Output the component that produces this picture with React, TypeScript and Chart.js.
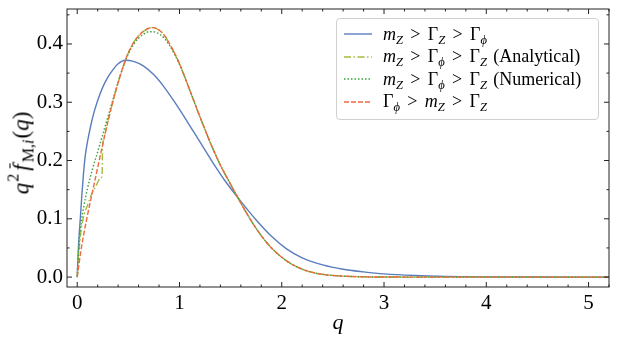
import React, { useEffect, useRef } from "react";
import { Chart, registerables } from "chart.js";

Chart.register(...registerables);

// ---------- data ----------
const qBlue = [0, 0.005, 0.01, 0.02, 0.03, 0.045, 0.06, 0.08, 0.1, 0.13, 0.16, 0.2, 0.25, 0.3, 0.35, 0.4, 0.47, 0.55, 0.65, 0.75, 0.85, 0.95, 1.05, 1.15, 1.25, 1.35, 1.45, 1.6, 1.75, 1.9, 2.05, 2.2, 2.4, 2.6, 2.8, 3.0, 3.3, 3.6, 4.0, 4.5, 5.3];
const vBlue = [0, 0.025, 0.045, 0.075, 0.1, 0.14, 0.175, 0.21, 0.232, 0.258, 0.28, 0.303, 0.326, 0.343, 0.356, 0.366, 0.372, 0.37, 0.362, 0.347, 0.326, 0.301, 0.274, 0.246, 0.218, 0.19, 0.164, 0.13, 0.098, 0.07, 0.048, 0.033, 0.021, 0.0135, 0.009, 0.0055, 0.0027, 0.0012, 0.0004, 0.0001, 0];

const qAnalytical = [0, 0.01, 0.02, 0.04, 0.07, 0.1, 0.14, 0.18, 0.22, 0.243, 0.248, 0.26, 0.3, 0.35, 0.4, 0.45, 0.5, 0.55, 0.6, 0.65, 0.7, 0.74, 0.78, 0.82, 0.86, 0.9, 0.95, 1.0, 1.05, 1.1, 1.15, 1.2, 1.25, 1.3, 1.35, 1.4, 1.5, 1.6, 1.7, 1.8, 1.9, 2.0, 2.1, 2.2, 2.3, 2.4, 2.6, 2.8, 3.0, 3.5, 5.3];
const vAnalytical = [0, 0.03, 0.05, 0.083, 0.108, 0.123, 0.142, 0.155, 0.168, 0.175, 0.224, 0.238, 0.267, 0.302, 0.334, 0.362, 0.385, 0.402, 0.414, 0.422, 0.427, 0.428, 0.426, 0.421, 0.413, 0.401, 0.385, 0.366, 0.344, 0.321, 0.298, 0.275, 0.253, 0.231, 0.211, 0.192, 0.159, 0.127, 0.097, 0.071, 0.05, 0.034, 0.022, 0.0135, 0.008, 0.0047, 0.0016, 0.0005, 0.0001, 0, 0];

const qNumerical = [0, 0.01, 0.02, 0.04, 0.06, 0.1, 0.15, 0.2, 0.25, 0.3, 0.35, 0.4, 0.45, 0.5, 0.55, 0.6, 0.65, 0.7, 0.74, 0.78, 0.82, 0.86, 0.9, 0.95, 1.0, 1.05, 1.1, 1.15, 1.2, 1.25, 1.3, 1.35, 1.4, 1.5, 1.6, 1.7, 1.8, 1.9, 2.0, 2.1, 2.2, 2.3, 2.4, 2.6, 2.8, 3.0, 3.5, 5.3];
const vNumerical = [0, 0.035, 0.062, 0.095, 0.117, 0.152, 0.186, 0.215, 0.245, 0.275, 0.305, 0.334, 0.361, 0.383, 0.399, 0.41, 0.417, 0.421, 0.421, 0.419, 0.415, 0.408, 0.398, 0.383, 0.365, 0.344, 0.321, 0.298, 0.275, 0.253, 0.231, 0.211, 0.192, 0.159, 0.127, 0.097, 0.071, 0.05, 0.034, 0.022, 0.0135, 0.008, 0.0047, 0.0016, 0.0005, 0.0001, 0, 0];

const qOrange = [0, 0.03, 0.06, 0.1, 0.15, 0.2, 0.25, 0.3, 0.35, 0.4, 0.45, 0.5, 0.55, 0.6, 0.65, 0.7, 0.74, 0.78, 0.82, 0.86, 0.9, 0.95, 1.0, 1.05, 1.1, 1.15, 1.2, 1.25, 1.3, 1.35, 1.4, 1.5, 1.6, 1.7, 1.8, 1.9, 2.0, 2.1, 2.2, 2.3, 2.4, 2.6, 2.8, 3.0, 3.5, 5.3];
const vOrange = [0, 0.038, 0.07, 0.106, 0.147, 0.188, 0.228, 0.267, 0.302, 0.334, 0.362, 0.385, 0.402, 0.414, 0.422, 0.427, 0.428, 0.426, 0.421, 0.413, 0.401, 0.385, 0.366, 0.344, 0.321, 0.298, 0.275, 0.253, 0.231, 0.211, 0.192, 0.159, 0.127, 0.097, 0.071, 0.05, 0.034, 0.022, 0.0135, 0.008, 0.0047, 0.0016, 0.0005, 0.0001, 0, 0];

const seriesNames = [
  "m_Z > Γ_Z > Γ_φ",
  "m_Z > Γ_φ > Γ_Z (Analytical)",
  "m_Z > Γ_φ > Γ_Z (Numerical)",
  "Γ_φ > m_Z > Γ_Z",
];

const xTickValues = [0, 1, 2, 3, 4, 5];
const yTickValues = [0, 0.1, 0.2, 0.3, 0.4];
const xRange = [-0.1, 5.2];
const yRange = [-0.017, 0.46];

// ---------- styles ----------
const FONT = "'Liberation Serif', 'DejaVu Serif', serif";
const COLORS = ["#5a7dbd", "#a3bd3c", "#38a238", "#ee6a40"];
const DASHES: number[][] = [[], [7, 2.5, 1.5, 2.5], [1.5, 2], [5, 2]];
const W = 618;
const H = 342;
const PLOT = { left: 67, right: 609, top: 9, bottom: 287 };

const toXY = (qs: number[], vs: number[]) => qs.map((q, i) => ({ x: q, y: vs[i] }));

const framePlugin = {
  id: "frameTicks",
  afterDraw(chart: any) {
    const { ctx, chartArea, scales } = chart;
    const { left, right, top, bottom } = chartArea;
    const xs = scales.x;
    const ys = scales.y;
    ctx.save();
    ctx.strokeStyle = "#222";
    ctx.lineWidth = 1;
    ctx.strokeRect(left, top, right - left, bottom - top);
    const drawX = (v: number, len: number) => {
      const px = xs.getPixelForValue(v);
      ctx.beginPath();
      ctx.moveTo(px, bottom);
      ctx.lineTo(px, bottom - len);
      ctx.moveTo(px, top);
      ctx.lineTo(px, top + len);
      ctx.stroke();
    };
    const drawY = (v: number, len: number) => {
      const py = ys.getPixelForValue(v);
      ctx.beginPath();
      ctx.moveTo(left, py);
      ctx.lineTo(left + len, py);
      ctx.moveTo(right, py);
      ctx.lineTo(right - len, py);
      ctx.stroke();
    };
    xTickValues.forEach((v) => drawX(v, 5));
    for (let i = 0; i <= 26; i++) {
      if (i % 5 !== 0) drawX(i * 0.2, 2.5);
    }
    yTickValues.forEach((v) => drawY(v, 5));
    for (let i = 0; i < 5; i++) drawY(0.05 + i * 0.1, 2.5);
    ctx.restore();
  },
};

const Sub = ({ children }: { children: React.ReactNode }) => (
  <span style={{ fontSize: "0.7em", position: "relative", top: "0.3em", lineHeight: 0 }}>{children}</span>
);
const Rel = () => (
  <span style={{ display: "inline-block", width: "0.78em", textAlign: "center", margin: "0 0.3em" }}>&gt;</span>
);
const mZ = (
  <>
    <i>m</i>
    <Sub>
      <i>Z</i>
    </Sub>
  </>
);
const GZ = (
  <>
    Γ
    <Sub>
      <i>Z</i>
    </Sub>
  </>
);
const Gphi = (
  <>
    Γ
    <Sub>
      <i>ϕ</i>
    </Sub>
  </>
);

const legendRich = [
  <>
    {mZ}
    <Rel />
    {GZ}
    <Rel />
    {Gphi}
  </>,
  <>
    {mZ}
    <Rel />
    {Gphi}
    <Rel />
    {GZ}
    <span style={{ marginLeft: "0.35em" }}>(Analytical)</span>
  </>,
  <>
    {mZ}
    <Rel />
    {Gphi}
    <Rel />
    {GZ}
    <span style={{ marginLeft: "0.35em" }}>(Numerical)</span>
  </>,
  <>
    {Gphi}
    <Rel />
    {mZ}
    <Rel />
    {GZ}
  </>,
];

export default function App() {
  const canvasRef = useRef<HTMLCanvasElement | null>(null);

  useEffect(() => {
    const canvas = canvasRef.current;
    if (!canvas) return;
    const series = [
      [qBlue, vBlue],
      [qAnalytical, vAnalytical],
      [qNumerical, vNumerical],
      [qOrange, vOrange],
    ];
    const chart = new Chart(canvas, {
      type: "line",
      data: {
        datasets: series.map(([qs, vs], i) => ({
          label: seriesNames[i],
          data: toXY(qs, vs),
          borderColor: COLORS[i],
          backgroundColor: COLORS[i],
          borderWidth: 1.4,
          borderDash: DASHES[i],
          pointRadius: 0,
          fill: false,
          cubicInterpolationMode: "monotone" as const,
          order: 4 - i,
        })),
      },
      plugins: [framePlugin],
      options: {
        animation: false,
        responsive: false,
        devicePixelRatio: 1,
        events: [],
        layout: { padding: { top: PLOT.top, right: W - PLOT.right, bottom: 0, left: 0 } },
        plugins: { legend: { display: false }, tooltip: { enabled: false } },
        scales: {
          x: {
            type: "linear",
            min: xRange[0],
            max: xRange[1],
            grid: { display: false, drawTicks: false },
            border: { display: false },
            afterBuildTicks: (s: any) => {
              s.ticks = xTickValues.map((v) => ({ value: v }));
            },
            afterFit: (s: any) => {
              s.height = H - PLOT.bottom;
              s.paddingLeft = 0;
              s.paddingRight = 0;
            },
            ticks: {
              padding: 4,
              color: "#000",
              autoSkip: false,
              maxRotation: 0,
              font: { family: FONT, size: 21 },
              callback: (v: any) => String(v),
            },
            title: {
              display: true,
              text: "q",
              color: "#000",
              font: { family: FONT, size: 22, style: "italic" },
              padding: { top: 0, bottom: 6 },
            },
          },
          y: {
            type: "linear",
            min: yRange[0],
            max: yRange[1],
            grid: { display: false, drawTicks: false },
            border: { display: false },
            afterBuildTicks: (s: any) => {
              s.ticks = yTickValues.map((v) => ({ value: v }));
            },
            afterFit: (s: any) => {
              s.width = PLOT.left;
              s.paddingTop = 0;
              s.paddingBottom = 0;
            },
            ticks: {
              padding: 4,
              color: "#000",
              autoSkip: false,
              font: { family: FONT, size: 21 },
              callback: (v: any) => Number(v).toFixed(1),
            },
          },
        },
      },
    } as any);
    return () => chart.destroy();
  }, []);

  return (
    <div style={{ position: "fixed", left: 0, top: 0, width: W, height: H, background: "#fff", overflow: "hidden" }}>
      <canvas ref={canvasRef} width={W} height={H} style={{ position: "absolute", left: 0, top: 0, width: W, height: H }} />
      {/* y-axis title */}
      <div
        style={{
          position: "absolute",
          left: 21,
          top: 153,
          transform: "translate(-50%, -50%) rotate(-90deg)",
          whiteSpace: "nowrap",
          fontFamily: FONT,
          fontSize: 23,
          color: "#000",
          lineHeight: 1,
        }}
      >
        <i>q</i>
        <span style={{ fontSize: "0.7em", position: "relative", top: "-0.6em", lineHeight: 0, marginLeft: 1 }}>2</span>
        <span style={{ display: "inline-block", position: "relative", marginLeft: 3 }}>
          <span
            style={{
              position: "absolute",
              left: "0.12em",
              right: "-0.05em",
              top: "-0.02em",
              borderTop: "1.2px solid #000",
            }}
          />
          <i>f</i>
        </span>
        <span style={{ marginLeft: 2 }}>
          <Sub>
            M,<i>i</i>
          </Sub>
        </span>
        <span style={{ marginLeft: 1 }}>
          (<i>q</i>)
        </span>
      </div>
      {/* legend */}
      <div
        style={{
          position: "absolute",
          left: 336,
          top: 18,
          width: 263,
          height: 102,
          boxSizing: "border-box",
          border: "1px solid #d0d0d0",
          borderRadius: 4,
          background: "rgba(255,255,255,0.85)",
          paddingTop: 4,
          fontFamily: FONT,
          fontSize: 18,
          color: "#000",
        }}
      >
        {legendRich.map((content, i) => (
          <div key={i} style={{ height: 22.5, display: "flex", alignItems: "center", whiteSpace: "nowrap" }}>
            <svg width={28} height={10} style={{ marginLeft: 7, marginRight: 11, flex: "none" }}>
              <line
                x1={0}
                y1={5}
                x2={28}
                y2={5}
                stroke={COLORS[i]}
                strokeWidth={1.4}
                strokeDasharray={DASHES[i].length ? DASHES[i].join(" ") : undefined}
              />
            </svg>
            <span title={seriesNames[i]}>{content}</span>
          </div>
        ))}
      </div>
    </div>
  );
}
